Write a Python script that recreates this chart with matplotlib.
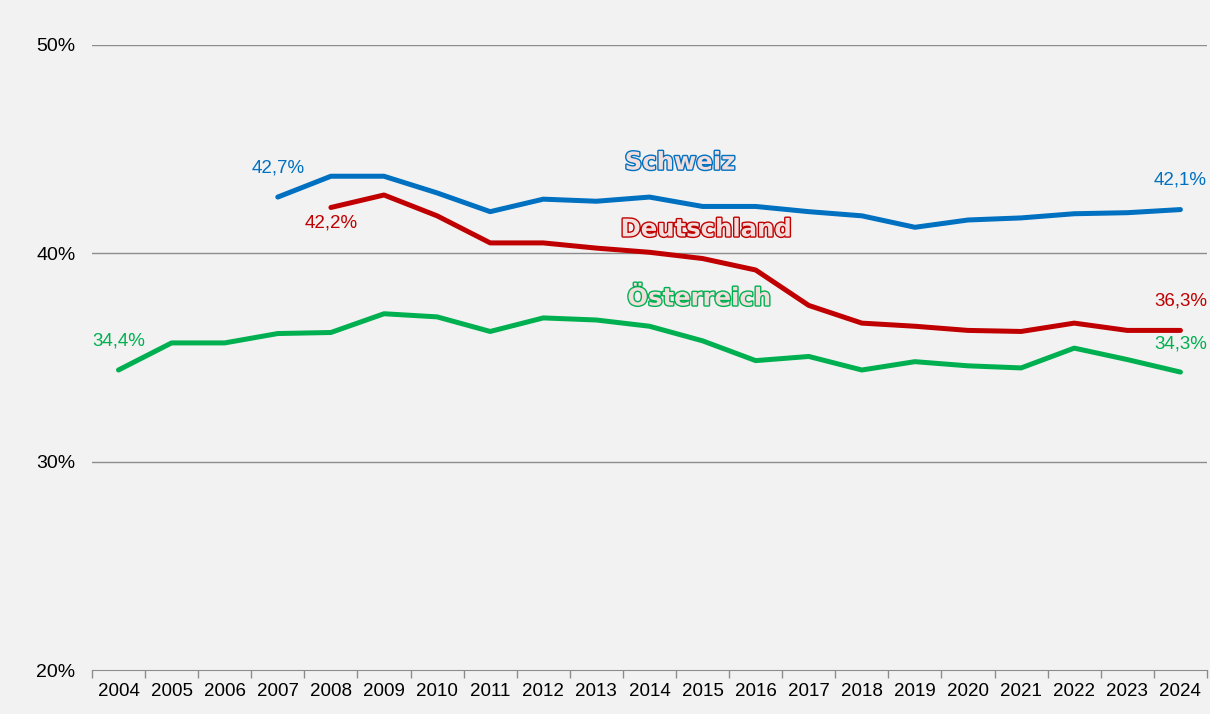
import matplotlib.pyplot as plt
import matplotlib.patheffects as pe
import numpy as np

years = [str(y) for y in range(2004, 2025)]
schweiz = [None, None, None, 42.7, 43.7, 43.7, 42.9, 42.0, 42.6, 42.5, 42.7,
           42.25, 42.25, 42.0, 41.8, 41.25, 41.6, 41.7, 41.9, 41.95, 42.1]
deutschland = [None, None, None, None, 42.2, 42.8, 41.8, 40.5, 40.5, 40.25, 40.05,
               39.75, 39.2, 37.5, 36.65, 36.5, 36.3, 36.25, 36.65, 36.3, 36.3]
oesterreich = [34.4, 35.7, 35.7, 36.15, 36.2, 37.1, 36.95, 36.25, 36.9, 36.8, 36.5,
               35.8, 34.85, 35.05, 34.4, 34.8, 34.6, 34.5, 35.45, 34.9, 34.3]

BLUE = '#0070c0'
RED = '#c00000'
GREEN = '#00b050'
BG = '#f2f2f2'


def to_arr(vals):
    return np.array([np.nan if v is None else v for v in vals], dtype=float)


def main():
    plt.rcParams['font.family'] = ['Liberation Sans', 'DejaVu Sans']
    fig = plt.figure(figsize=(12.1, 7.14), dpi=100, facecolor=BG)
    ax = fig.add_axes([0.076, 0.0616, 0.9215, 0.8754])
    ax.set_facecolor(BG)

    x = np.arange(len(years))
    for vals, c in [(schweiz, BLUE), (deutschland, RED), (oesterreich, GREEN)]:
        ax.plot(x, to_arr(vals), color=c, lw=3.6, solid_capstyle='round',
                solid_joinstyle='round', zorder=3)

    ax.set_ylim(20, 50)
    ax.set_xlim(-0.5, len(years) - 0.5)
    ax.set_yticks([20, 30, 40, 50])
    ax.set_yticklabels(['20%', '30%', '40%', '50%'], fontsize=14)
    for yv in [30, 40, 50]:
        ax.axhline(yv, color='#8c8c8c', lw=1.0, zorder=1)
    ax.tick_params(axis='y', length=0, pad=12)

    ax.set_xticks(x)
    ax.set_xticklabels(years, fontsize=13.5)
    ax.set_xticks(np.arange(-0.5, len(years)), minor=True)
    ax.tick_params(axis='x', which='major', length=0, pad=9)
    ax.tick_params(axis='x', which='minor', length=6, color='#8c8c8c', width=1)

    for s in ['top', 'left', 'right']:
        ax.spines[s].set_visible(False)
    ax.spines['bottom'].set_color('#8c8c8c')

    # data labels
    labels = [
        (3, schweiz[3], '42,7%', BLUE, 21),
        (4, deutschland[4], '42,2%', RED, -11),
        (0, oesterreich[0], '34,4%', GREEN, 21),
        (20, schweiz[20], '42,1%', BLUE, 21),
        (20, deutschland[20], '36,3%', RED, 21),
        (20, oesterreich[20], '34,3%', GREEN, 20),
    ]
    for xi, yv, txt, c, dy in labels:
        ax.annotate(txt, (xi, yv), xytext=(0, dy), textcoords='offset points',
                    ha='center', va='center', color=c, fontsize=13.5)

    # series names (outlined)
    names = [(10.57, 44.36, 'Schweiz', BLUE), (11.06, 41.15, 'Deutschland', RED),
             (10.93, 37.84, 'Österreich', GREEN)]
    for xi, yv, txt, c in names:
        ax.text(xi, yv, txt, ha='center', va='center', fontsize=17.5,
                fontweight='bold', family='DejaVu Sans',
                color='#f3dede', zorder=4,
                path_effects=[pe.withStroke(linewidth=2.0, foreground=c)])

    fig.savefig('out.png', dpi=100, facecolor=BG)


if __name__ == '__main__':
    main()
